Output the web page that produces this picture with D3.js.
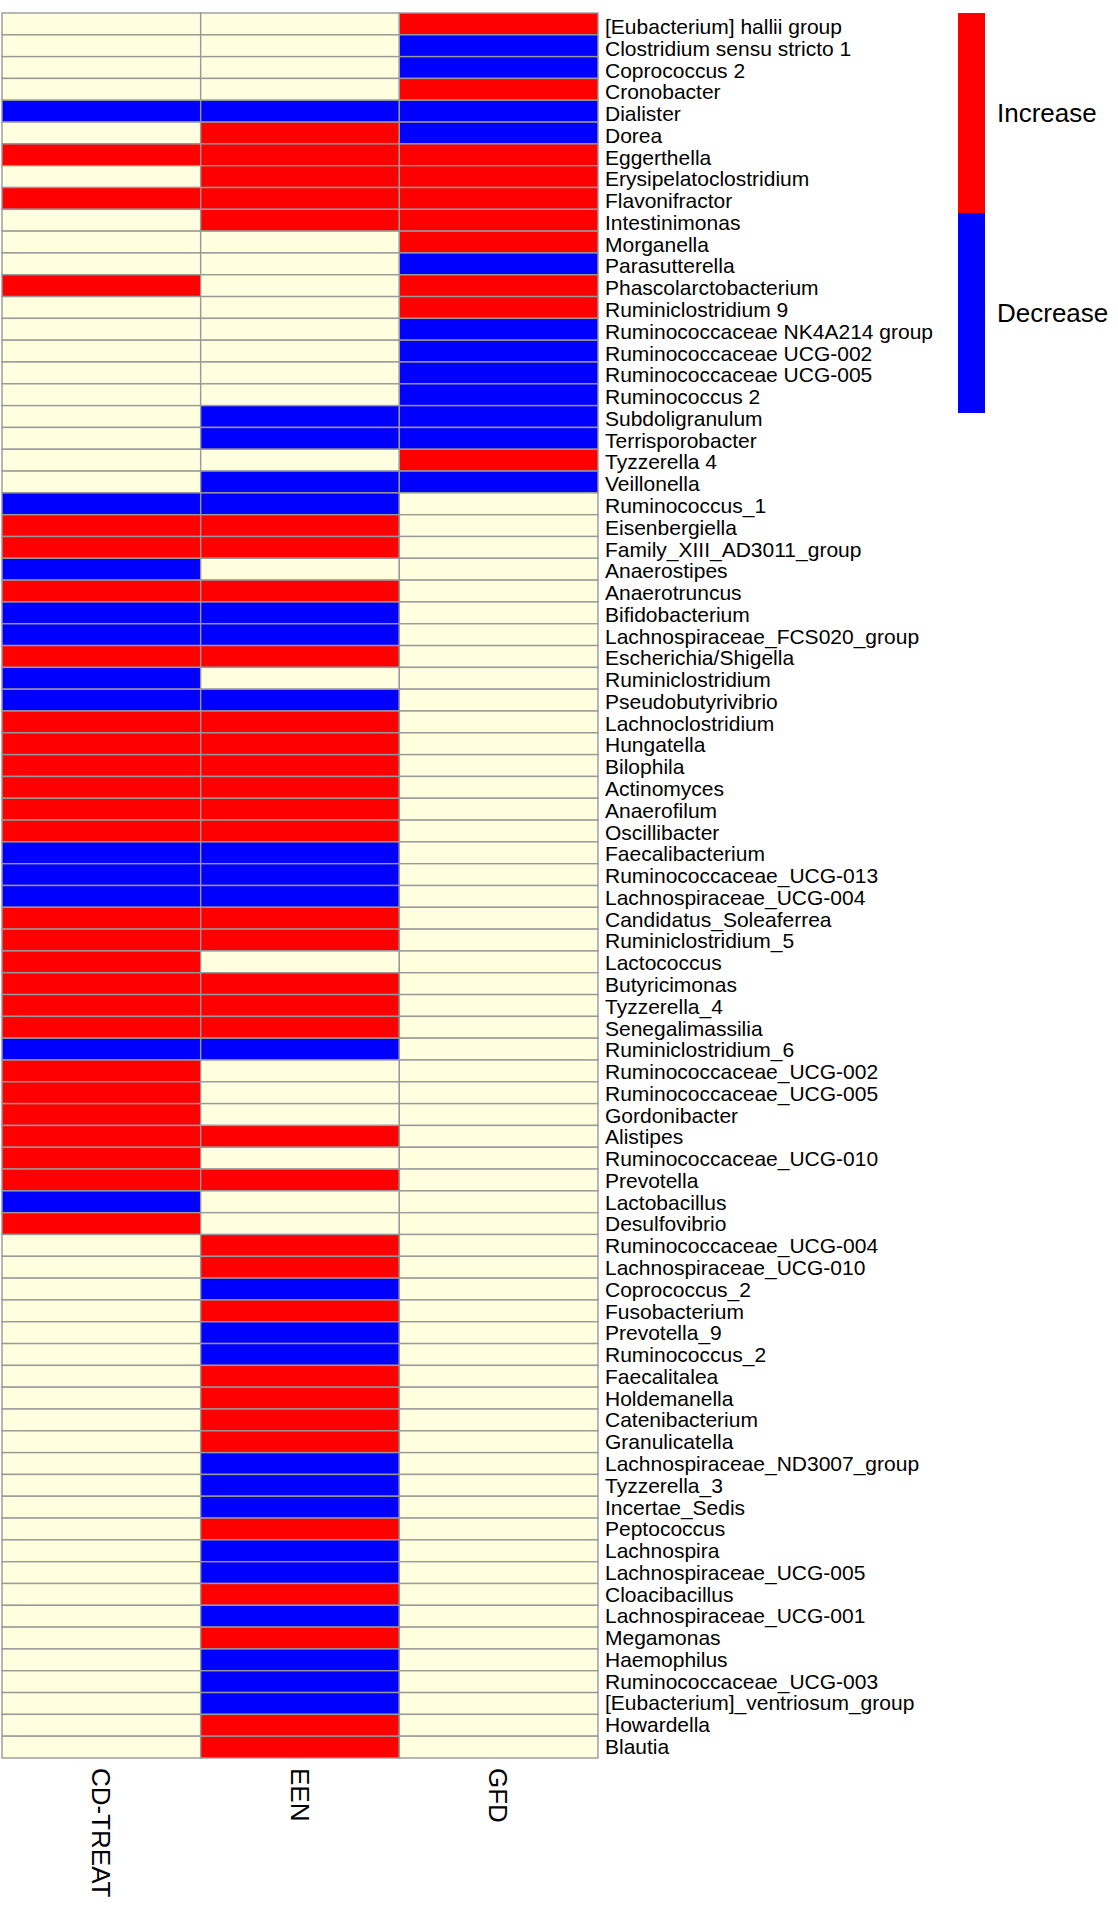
<!DOCTYPE html>
<html>
<head>
<meta charset="utf-8">
<script src="https://cdn.jsdelivr.net/npm/d3@7"></script>
<style>
  html, body { margin: 0; padding: 0; background: #ffffff; }
  svg { display: block; font-family: "Liberation Sans", Arial, Helvetica, sans-serif; }
</style>
</head>
<body>
<svg id="chart" width="1118" height="1911"></svg>
<script>
// Genera (rows of the heatmap), top to bottom
const taxa = [
  "[Eubacterium] hallii group", "Clostridium sensu stricto 1", "Coprococcus 2", "Cronobacter",
  "Dialister", "Dorea", "Eggerthella", "Erysipelatoclostridium", "Flavonifractor", "Intestinimonas",
  "Morganella", "Parasutterella", "Phascolarctobacterium", "Ruminiclostridium 9",
  "Ruminococcaceae NK4A214 group", "Ruminococcaceae UCG-002", "Ruminococcaceae UCG-005",
  "Ruminococcus 2", "Subdoligranulum", "Terrisporobacter", "Tyzzerella 4", "Veillonella",
  "Ruminococcus_1", "Eisenbergiella", "Family_XIII_AD3011_group", "Anaerostipes", "Anaerotruncus",
  "Bifidobacterium", "Lachnospiraceae_FCS020_group", "Escherichia/Shigella", "Ruminiclostridium",
  "Pseudobutyrivibrio", "Lachnoclostridium", "Hungatella", "Bilophila", "Actinomyces",
  "Anaerofilum", "Oscillibacter", "Faecalibacterium", "Ruminococcaceae_UCG-013",
  "Lachnospiraceae_UCG-004", "Candidatus_Soleaferrea", "Ruminiclostridium_5", "Lactococcus",
  "Butyricimonas", "Tyzzerella_4", "Senegalimassilia", "Ruminiclostridium_6",
  "Ruminococcaceae_UCG-002", "Ruminococcaceae_UCG-005", "Gordonibacter", "Alistipes",
  "Ruminococcaceae_UCG-010", "Prevotella", "Lactobacillus", "Desulfovibrio",
  "Ruminococcaceae_UCG-004", "Lachnospiraceae_UCG-010", "Coprococcus_2", "Fusobacterium",
  "Prevotella_9", "Ruminococcus_2", "Faecalitalea", "Holdemanella", "Catenibacterium",
  "Granulicatella", "Lachnospiraceae_ND3007_group", "Tyzzerella_3", "Incertae_Sedis",
  "Peptococcus", "Lachnospira", "Lachnospiraceae_UCG-005", "Cloacibacillus",
  "Lachnospiraceae_UCG-001", "Megamonas", "Haemophilus", "Ruminococcaceae_UCG-003",
  "[Eubacterium]_ventriosum_group", "Howardella", "Blautia"
];

// Treatment groups (columns)
const groups = ["CD-TREAT", "EEN", "GFD"];

// Direction of change per genus: 1 = increase, -1 = decrease, 0 = unchanged
const cdTreat = [
   0,  0,  0,  0, -1,  0,  1,  0,  1,  0,
   0,  0,  1,  0,  0,  0,  0,  0,  0,  0,
   0,  0, -1,  1,  1, -1,  1, -1, -1,  1,
  -1, -1,  1,  1,  1,  1,  1,  1, -1, -1,
  -1,  1,  1,  1,  1,  1,  1, -1,  1,  1,
   1,  1,  1,  1, -1,  1,  0,  0,  0,  0,
   0,  0,  0,  0,  0,  0,  0,  0,  0,  0,
   0,  0,  0,  0,  0,  0,  0,  0,  0,  0
];
const een = [
   0,  0,  0,  0, -1,  1,  1,  1,  1,  1,
   0,  0,  0,  0,  0,  0,  0,  0, -1, -1,
   0, -1, -1,  1,  1,  0,  1, -1, -1,  1,
   0, -1,  1,  1,  1,  1,  1,  1, -1, -1,
  -1,  1,  1,  0,  1,  1,  1, -1,  0,  0,
   0,  1,  0,  1,  0,  0,  1,  1, -1,  1,
  -1, -1,  1,  1,  1,  1, -1, -1, -1,  1,
  -1, -1,  1, -1,  1, -1, -1, -1,  1,  1
];
const gfd = [
   1, -1, -1,  1, -1, -1,  1,  1,  1,  1,
   1, -1,  1,  1, -1, -1, -1, -1, -1, -1,
   1, -1,  0,  0,  0,  0,  0,  0,  0,  0,
   0,  0,  0,  0,  0,  0,  0,  0,  0,  0,
   0,  0,  0,  0,  0,  0,  0,  0,  0,  0,
   0,  0,  0,  0,  0,  0,  0,  0,  0,  0,
   0,  0,  0,  0,  0,  0,  0,  0,  0,  0,
   0,  0,  0,  0,  0,  0,  0,  0,  0,  0
];

// Legend entries
const legendLabels = ["Increase", "Decrease"];
const legendValues = [1, -1];

// ---- layout ----
const grid = { left: 2, right: 598, top: 13, bottom: 1758 };
const labelBaselines = [34, 1754];
const legendBox = { x: 958, width: 27, top: 13, bottom: 413 };

const seriesByGroup = { "CD-TREAT": cdTreat, "EEN": een, "GFD": gfd };
const cells = [];
taxa.forEach((t, i) => {
  groups.forEach(g => cells.push({ taxon: t, group: g, value: seriesByGroup[g][i] }));
});

const x = d3.scaleBand().domain(groups).range([grid.left, grid.right]).padding(0);
const y = d3.scaleBand().domain(taxa).range([grid.top, grid.bottom]).padding(0);
const yLabel = d3.scalePoint().domain(taxa).range(labelBaselines);
const color = d3.scaleOrdinal().domain([-1, 0, 1]).range(["#0000ff", "#ffffe0", "#ff0000"]);

const svg = d3.select("#chart");
svg.append("rect").attr("width", 1118).attr("height", 1911).attr("fill", "#ffffff");

// heatmap cells
svg.append("g")
  .selectAll("rect")
  .data(cells)
  .join("rect")
  .attr("x", d => x(d.group))
  .attr("y", d => y(d.taxon))
  .attr("width", x.bandwidth())
  .attr("height", y.bandwidth())
  .attr("fill", d => color(d.value))
  .attr("stroke", "#999999")
  .attr("stroke-width", 1.4);

// row labels
svg.append("g")
  .selectAll("text")
  .data(taxa)
  .join("text")
  .attr("x", grid.right + 7)
  .attr("y", d => yLabel(d))
  .attr("font-size", 21)
  .attr("fill", "#000")
  .text(d => d);

// column labels, rotated to read downwards
svg.append("g")
  .selectAll("text")
  .data(groups)
  .join("text")
  .attr("transform", d => `translate(${x(d) + x.bandwidth() / 2},${grid.bottom + 10}) rotate(90)`)
  .attr("dy", "0.36em")
  .attr("font-size", 26)
  .attr("fill", "#000")
  .text(d => d);

// legend: two colour blocks with centred labels
const ly = d3.scaleBand().domain(legendValues).range([legendBox.top, legendBox.bottom]).padding(0);
const legend = svg.append("g");
legend.selectAll("rect")
  .data(legendValues)
  .join("rect")
  .attr("x", legendBox.x)
  .attr("y", d => ly(d))
  .attr("width", legendBox.width)
  .attr("height", ly.bandwidth())
  .attr("fill", d => color(d));
legend.selectAll("text")
  .data(legendValues)
  .join("text")
  .attr("x", legendBox.x + legendBox.width + 12)
  .attr("y", d => ly(d) + ly.bandwidth() / 2)
  .attr("dy", "0.36em")
  .attr("font-size", 26)
  .attr("fill", "#000")
  .text((d, i) => legendLabels[i]);
</script>
</body>
</html>
